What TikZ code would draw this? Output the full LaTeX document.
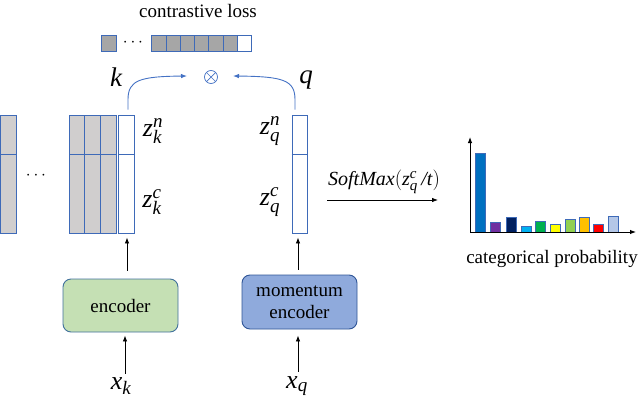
\documentclass[tikz,border=0pt]{standalone}
\usepackage{fontspec}
\setmainfont{Liberation Serif}
\DeclareSymbolFont{letters}{TU}{\rmdefault}{m}{it}
\DeclareSymbolFont{operators}{TU}{\rmdefault}{m}{n}
\DeclareMathSizes{26}{26}{19}{14}
\DeclareMathSizes{27}{27}{20}{15}
\DeclareMathSizes{20}{20}{15}{11}
\usetikzlibrary{arrows.meta}
\definecolor{bord}{HTML}{3E6AB8}
\definecolor{arcblue}{HTML}{4472C4}
\definecolor{sqgray}{HTML}{A6A6A6}
\definecolor{colgray}{HTML}{D0CECE}
\definecolor{encgreen}{HTML}{C5E0B4}
\definecolor{encborder}{HTML}{41719C}
\definecolor{momblue}{HTML}{8FAADC}
\definecolor{momborder}{HTML}{2F5597}
\newcommand{\slashtxt}{\mbox{\itshape /}}
\begin{document}
\begin{tikzpicture}[x=1pt,y=-1pt,
  txt/.style={font=\fontsize{19}{22}\selectfont, inner sep=0pt},
  mth/.style={font=\fontsize{26}{29}\selectfont, inner sep=0pt},
  bigmth/.style={font=\fontsize{27}{30}\selectfont, inner sep=0pt},
  arr/.style={-{Latex[length=6pt,width=4.5pt]}, line width=0.8pt},
  barr/.style={arr, draw=arcblue, line width=0.9pt},
  sq/.style={draw=bord, fill=sqgray, line width=0.9pt},
  colbox/.style={draw=bord, line width=0.9pt, inner sep=0pt, minimum width=15.7pt, minimum height=118pt},
  bar/.style={draw=bord, line width=0.8pt},
  encbox/.style={rounded corners=8pt, line width=0.9pt, align=center, inner sep=0pt,
    font=\fontsize{19}{22}\selectfont},
  otimesnode/.style={circle, draw=arcblue, line width=0.7pt, minimum size=13pt, inner sep=0pt,
    path picture={\draw[arcblue, line width=0.7pt]
      (path picture bounding box.north west) -- (path picture bounding box.south east)
      (path picture bounding box.north east) -- (path picture bounding box.south west);}}
]
\useasboundingbox (0,0) rectangle (640,402);

% title
\node[txt] (title) at (198,11) {contrastive loss};

% top squares
\draw[sq] (101,35) rectangle (116,51);
\node[txt] (sqdots) at (133,43) {$\cdots$};
\foreach \i in {0,...,5} {\draw[sq] ({151.7+14.3*\i},35) rectangle ++(14.3,16);}
\draw[sq, fill=white] ({151.7+14.3*6},35) rectangle ++(14.3,16);

% memory bank columns
\draw[sq, fill=colgray] (0,115) rectangle (16,233);
\draw[draw=bord, line width=0.9pt] (0,154) -- (16,154);
\node[txt] (coldots) at (36,176) {$\cdots$};
\foreach \i in {0,1,2} {
  \draw[sq, fill=colgray] ({69+15.7*\i},115) rectangle ++(15.7,118);
  \draw[draw=bord, line width=0.9pt] ({69+15.7*\i},154) -- ++(15.7,0);
}
\node[colbox] (kcol) at (126.5,174) {};
\draw[draw=bord, line width=0.9pt] (kcol.west |- 0,154) -- (kcol.east |- 0,154);
\node[colbox, minimum width=15pt] (qcol) at (299.5,174) {};
\draw[draw=bord, line width=0.9pt] (qcol.west |- 0,154) -- (qcol.east |- 0,154);

% labels
\node[mth] (zkn) at (153,131) {$z_k^n$};
\node[mth] (zkc) at (152,202) {$z_k^c$};
\node[mth] (zqn) at (270,131) {$z_q^n$};
\node[mth] (zqc) at (270,202) {$z_q^c$};
\node[bigmth] (klab) at (116,77) {$k$};
\node[bigmth] (qlab) at (306,80) {$q$};

% otimes
\node[otimesnode] (ox) at (211,77) {};
\coordinate (kin) at (187,76);
\coordinate (qin) at (233,76);
\draw[barr] ([xshift=1.5pt,yshift=5pt]kcol.north) -- ++(0,-10) .. controls (128,80) and (140,76.5) .. (kin);
\draw[barr] ([xshift=-4.5pt,yshift=5pt]qcol.north) -- ++(0,-10) .. controls (295,80) and (283,76.5) .. (qin);

% encoders
\node[encbox, draw=encborder, fill=encgreen, minimum width=115pt, minimum height=53pt] (enc) at (120.5,305.5) {encoder};
\node[encbox, draw=momborder, fill=momblue, minimum width=115pt, minimum height=54pt] (menc) at (299.5,302) {momentum\\encoder};

\node[mth] (xk) at (121,386) {$x_k$};
\node[mth] (xq) at (297,386) {$x_q$};

\draw[arr] ([yshift=8pt]enc.north -| 127,0) -- ([yshift=-4pt]kcol.south -| 127,0);
\draw[arr] ([yshift=5pt]menc.north -| 298,0) -- ([yshift=-4pt]qcol.south -| 298,0);
\draw[arr] ([yshift=4pt]xk.north -| 125,0) -- ([yshift=-3pt]enc.south -| 125,0);
\draw[arr] ([yshift=4pt]xq.north -| 298,0) -- ([yshift=-6pt]menc.south -| 298,0);

% softmax arrow
\coordinate (smA) at (327,200);
\coordinate (smB) at (438,200);
\draw[arr, line width=0.8pt] (smA) -- (smB);
\node[font=\fontsize{20}{23}\selectfont, inner sep=0pt] (smlab) at (384,182) {$SoftMax(z_q^c\,\slashtxt t)$};

% bar chart
\coordinate (origin) at (470,232);
\coordinate (ytop) at (470,137);
\coordinate (xend) at (636,232);
\foreach \x/\t/\c in {475.7/153.3/0070C0, 490/222.7/7030A0, 506.7/217.3/002060, 521/226.7/00B0F0,
  535.7/221.7/00B050, 550/224/FFFF00, 565/219.3/92D050, 579.3/217.3/FFC000, 593.3/224/FF0000, 608.3/216.7/B4C7E7} {
  \definecolor{bc}{HTML}{\c}
  \draw[bar, fill=bc] (\x,232) rectangle ({\x+10},\t);
}
\draw[arr, line width=1pt] (origin) -- (ytop);
\draw[arr, line width=1pt] (origin) -- (xend);
\node[txt] (catlab) at (552,259) {categorical probability};
\end{tikzpicture}
\end{document}
